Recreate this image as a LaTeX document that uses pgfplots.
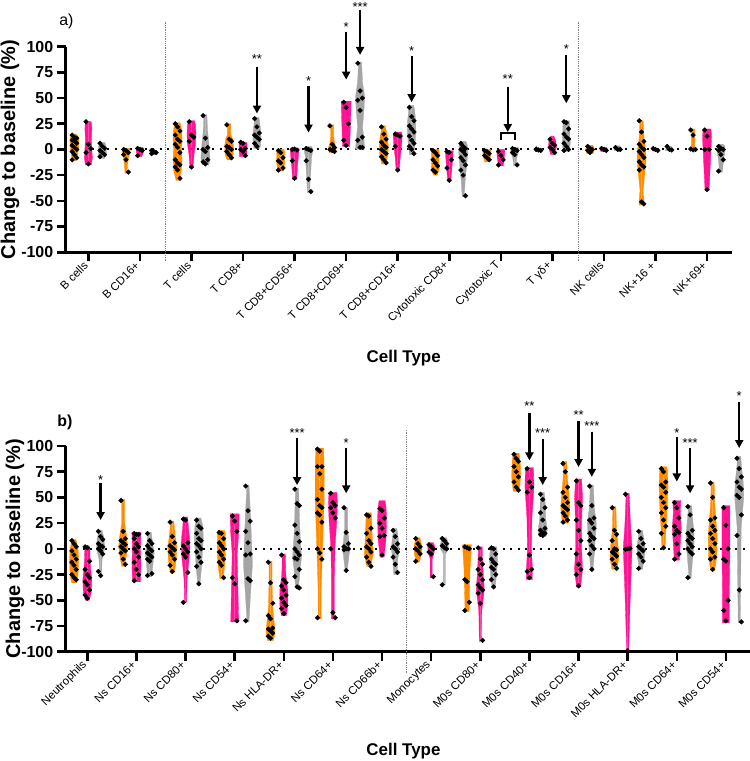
\documentclass[border=0pt]{standalone}
\usepackage{fontspec}
\setmainfont{Liberation Sans}
\usepackage{pgfplots}
\pgfplotsset{compat=1.18}
\usetikzlibrary{arrows.meta}
\definecolor{vor}{RGB}{255,140,0}
\definecolor{vpk}{RGB}{255,20,147}
\definecolor{vgy}{RGB}{165,165,165}
\newcommand{\wsc}{0.0194}
% violin: x, colour, ymin, ymax, rows "y halfwidth(px)"
\newcommand{\vio}[5]{%
 \addplot[fill=#2,draw=#2,line width=0.3pt,forget plot] table[row sep=\\,x expr={#1+\wsc*\thisrowno{1}},y index=0]{#3 0\\#5#4 0\\};
 \addplot[fill=#2,draw=#2,line width=0.3pt,forget plot] table[row sep=\\,x expr={#1-\wsc*\thisrowno{1}},y index=0]{#3 0\\#5#4 0\\};}
\newcommand{\pts}[2]{\addplot[only marks,mark=square*,mark size=1.65bp,black,every mark/.append style={rotate=45},forget plot] table[row sep=\\,y index=0,x expr={#1+0.045*(mod(\coordindex,3)-1)}]{#2};}
\newcommand{\arr}[3]{\addplot[-{Triangle[width=8bp,length=8bp]},line width=2.2bp,forget plot] coordinates {(#1,#2)(#1,#3)};}
\newcommand{\st}[3]{\node[font=\fontsize{13}{13}\selectfont] at (axis cs:#1,#2) {#3};}
\pgfplotsset{
 base/.style={scale only axis, anchor=south west, ymin=-100, ymax=100, clip=false,
  axis lines=left, axis line style={line width=2.6bp,-}, tick align=outside,
  major tick length=9bp, tick style={line width=2.6bp,black},
  ytick={-100,-75,...,100}, yticklabels={-100,-75,-50,-25,0,25,50,75,100},
  yticklabel style={font=\bfseries\fontsize{16}{18}\selectfont},
  xticklabel style={rotate=45, anchor=east, font=\fontsize{11.5}{12}\selectfont},
  ylabel={Change to baseline (\%)}, xlabel={Cell Type},
  ylabel style={font=\bfseries\fontsize{20}{22}\selectfont, anchor=center},
  xlabel style={font=\bfseries\fontsize{17}{19}\selectfont, anchor=center},
 }}
\begin{document}
\begin{tikzpicture}
\path[use as bounding box] (0,0) rectangle (750bp,761bp);
%================ panel a
\begin{axis}[base, at={(65.7bp,508.7bp)}, width=666.6bp, height=205.6bp,
 xmin=-0.44, xmax=12.49, xtick={0,...,12},
 xticklabels={B cells,B CD16+,T cells,T CD8+,T CD8+CD56+,T CD8+CD69+,T CD8+CD16+,Cytotoxic CD8+,Cytotoxic T,T γδ+,NK cells,NK+16 +,NK+69+},
 ylabel style={at={(axis description cs:-0.0836,0.5)}},
 xlabel style={at={(axis description cs:0.507,-0.515)}}]
\addplot[gray,densely dotted,line width=0.8bp,forget plot] coordinates {(1.5,124.5)(1.5,-109)};
\addplot[gray,densely dotted,line width=0.8bp,forget plot] coordinates {(9.5,124.5)(9.5,-109)};
\addplot[black,line width=2bp,dash pattern=on 2bp off 5.5bp,forget plot] coordinates {(-0.22,0)(12.4,0)};
% c0
\vio{-0.27}{vor}{-11}{15}{-11 1.5\\-6 3\\0 4\\8 4.5\\12 4\\15 2\\}
\vio{0}{vpk}{-15}{27}{-15 3\\-8 4\\0 3.5\\10 3\\20 3.5\\27 3\\}
\vio{0.27}{vgy}{-9}{7}{-9 2\\-4 4\\2 4\\7 2.5\\}
% c1
\vio{0.73}{vor}{-23}{1}{-23 1\\-15 1.5\\-8 2.5\\-3 4\\1 4\\}
\vio{1}{vpk}{-7}{2}{-7 1.5\\-3 3.5\\1 4\\2 3\\}
\vio{1.27}{vgy}{-5}{-1}{-5 3\\-2.5 4\\-1 3\\}
% c2
\vio{1.73}{vor}{-30}{26}{-30 1.5\\-20 4\\-10 4.5\\0 4\\10 4.5\\20 4\\26 2.5\\}
\vio{2}{vpk}{-18}{28}{-18 1.5\\-5 2.5\\5 4\\15 4.5\\24 4\\28 3\\}
\vio{2.27}{vgy}{-15}{34}{-15 3.5\\-8 4.5\\0 4\\10 3\\20 2\\34 1.5\\}
% c3
\vio{2.73}{vor}{-10}{25}{-10 2\\-5 4\\3 4.5\\10 3.5\\15 1.5\\25 1.5\\}
\vio{3}{vpk}{-7}{7}{-7 3.5\\0 4\\7 4\\}
\vio{3.27}{vgy}{1}{31}{1 3\\8 4\\16 4\\24 3\\31 2\\}
% c4
\vio{3.73}{vor}{-21}{0}{-21 3\\-12 4\\-4 4\\0 3.5\\}
\vio{4}{vpk}{-29}{1}{-29 2\\-15 3\\-5 4\\1 4.5\\}
\vio{4.27}{vgy}{-42}{3}{-42 1\\-25 2\\-8 3\\0 4.5\\3 3\\}
% c5
\vio{4.73}{vor}{-3}{24}{-3 3\\1 4\\6 2.5\\12 1.5\\24 1.5\\}
\vio{5}{vpk}{3}{47}{3 3.5\\15 4\\30 4.5\\47 5\\}
\vio{5.27}{vgy}{0}{85}{0 4.5\\8 4\\22 2.5\\40 4\\52 4.5\\65 2.5\\85 1.5\\}
% c6
\vio{5.73}{vor}{-14}{23}{-14 2\\-6 4\\2 4.5\\10 4\\18 2.5\\23 1.5\\}
\vio{6}{vpk}{-21}{17}{-21 1.5\\-8 2.5\\5 4\\14 4.5\\17 3.5\\}
\vio{6.27}{vgy}{-5}{43}{-5 2\\5 3.5\\15 4\\28 4\\38 3\\43 2\\}
% c7
\vio{6.73}{vor}{-25}{0}{-25 2\\-18 4\\-10 3.5\\-4 4\\0 3.5\\}
\vio{7}{vpk}{-31}{-1}{-31 1.5\\-20 2.5\\-8 3.5\\-1 4\\}
\vio{7.27}{vgy}{-46}{8}{-46 1\\-30 2\\-15 3.5\\-3 4.5\\5 4\\8 2.5\\}
% c8
\vio{7.73}{vor}{-12}{0}{-12 2\\-6 4\\0 4\\}
\vio{8}{vpk}{-16}{0}{-16 2.5\\-8 3.5\\-2 4\\0 3.5\\}
\vio{8.27}{vgy}{-16}{2}{-16 1\\-8 2\\-2 4\\2 3.5\\}
% c9
\vio{8.73}{vor}{-2}{1}{-2 3\\0 4\\1 3\\}
\vio{9}{vpk}{-5}{13}{-5 1.5\\2 4\\8 3.5\\13 1.5\\}
\vio{9.27}{vgy}{-2}{28}{-2 3\\6 4\\15 3.5\\22 3.5\\28 3\\}
% c10
\vio{9.73}{vor}{-4}{4}{-4 3\\0 4.5\\4 3\\}
\vio{10}{vpk}{-2}{2}{-2 3\\0 4\\2 2.5\\}
\vio{10.27}{vgy}{-1}{3.5}{-1 3.5\\1 4\\3.5 2\\}
% c11
\vio{10.73}{vor}{-54}{28}{-54 2.5\\-50 2.5\\-40 1.5\\-25 3\\-10 4.5\\0 4\\10 2.5\\20 2\\28 1.5\\}
\vio{11}{vpk}{-1.5}{1}{-1.5 2.5\\0 4\\1 3\\}
\vio{11.27}{vgy}{-1}{3}{-1 4\\1 3.5\\3 2\\}
% c12
\vio{11.73}{vor}{-1}{20}{-1 3.5\\1 3.5\\3 1.5\\20 1.5\\}
\vio{12}{vpk}{-40}{20}{-40 2\\-20 3\\0 4\\12 4.5\\20 4\\}
\vio{12.27}{vgy}{-22}{5}{-22 1.5\\-10 2.5\\-2 4\\3 4\\5 2\\}
% points
\pts{-0.27}{14\\12\\11\\9\\8\\6\\4\\2\\0\\-2\\-5\\-8\\-10\\}
\pts{0}{27\\5\\1\\-3\\-14\\}
\pts{0.27}{6\\3\\1\\-1\\-3\\-5\\-7\\}
\pts{0.73}{0\\-1\\-3\\-5\\-10\\-22\\}
\pts{1}{1\\0\\-1\\-6\\}
\pts{1.27}{-1\\-2\\-3\\-4\\-2.5\\}
\pts{1.73}{25\\22\\18\\14\\10\\8\\5\\2\\-3\\-10\\-13\\-15\\-17\\-20\\-28\\}
\pts{2}{27\\14\\12\\8\\-17\\}
\pts{2.27}{33\\11\\2\\0\\-2\\-10\\-12\\-14\\}
\pts{2.73}{24\\10\\8\\3\\2\\0\\-2\\-5\\-8\\}
\pts{3}{7\\6\\1\\0\\-2\\-6\\}
\pts{3.27}{30\\22\\16\\14\\12\\10\\6\\3\\}
\pts{3.73}{-1\\-3\\-8\\-11\\-13\\-18\\-20\\}
\pts{4}{0\\0.5\\-0.5\\-11\\-28\\}
\pts{4.27}{1\\0\\-1\\-11\\-29\\-41\\}
\pts{4.73}{23\\5\\2\\0\\-1\\-2\\}
\pts{5}{46\\41\\25\\9\\4\\}
\pts{5.27}{84\\57\\50\\48\\38\\12\\9\\2\\2\\}
\pts{5.73}{22\\15\\10\\7\\4\\2\\0\\-2\\-4\\-7\\-10\\-13\\}
\pts{6}{15\\14\\13\\3\\-20\\}
\pts{6.27}{41\\32\\28\\23\\20\\17\\13\\9\\6\\3\\0\\-4\\}
\pts{6.73}{-1\\-3\\-6\\-10\\-13\\-16\\-20\\-22\\}
\pts{7}{-2\\-3\\-10\\-18\\-30\\}
\pts{7.27}{6\\3\\1\\0\\-2\\-5\\-8\\-11\\-15\\-20\\-25\\-45\\}
\pts{7.73}{-1\\-2\\-4\\-6\\-8\\-10\\}
\pts{8}{-2\\-6\\-10\\-15\\}
\pts{8.27}{1\\0\\-1\\-3\\-5\\-15\\}
\pts{8.73}{0\\-0.5\\-1\\0.5\\}
\pts{9}{10\\6\\4\\2\\0\\-3\\}
\pts{9.27}{27\\26\\20\\15\\12\\10\\6\\3\\0\\-1\\}
\pts{9.73}{3\\1\\0\\-1\\-3\\}
\pts{10}{1\\0\\-1\\}
\pts{10.27}{2\\0\\0\\}
\pts{10.73}{28\\17\\8\\5\\2\\0\\-2\\-5\\-8\\-12\\-15\\-17\\-20\\-51\\-53\\}
\pts{11}{1\\0\\-1\\}
\pts{11.27}{3\\0\\-0.5\\}
\pts{11.73}{19\\14\\0\\0.5\\-0.5\\}
\pts{12}{19\\13\\0\\0\\-39\\}
\pts{12.27}{3\\1\\0\\-1\\-5\\-10\\-21\\}
% annotations
\arr{3.27}{80}{35}\st{3.27}{87.7}{**}
\arr{4.27}{62}{16.5}\st{4.27}{66.6}{*}
\arr{5}{114}{68}\st{5}{119.2}{*}
\arr{5.27}{136}{92}\st{5.27}{138.9}{***}
\arr{6.27}{90.5}{46}\st{6.27}{95.8}{*}
\addplot[line width=2bp,forget plot] coordinates {(8,9)(8,16)(8.27,16)(8.27,9)};
\arr{8.135}{61}{17}\st{8.135}{68.9}{**}
\arr{9.27}{92}{45}\st{9.27}{98.2}{*}
\node[font=\fontsize{16}{18}\selectfont] at (axis description cs:0.001,1.1226) {a)};
\end{axis}
%================ panel b
\renewcommand{\wsc}{0.02035}
\begin{axis}[base, at={(65.7bp,109.3bp)}, width=684.3bp, height=205.7bp,
 xmin=-0.44, xmax=13.49, xtick={0,...,13},
 xticklabels={Neutrophils,Ns CD16+,Ns CD80+,Ns CD54+,Ns HLA-DR+,Ns CD64+,Ns CD66b+,Monocytes,M0s CD80+,M0s CD40+,M0s CD16+,M0s HLA-DR+,M0s CD64+,M0s CD54+},
 ylabel style={at={(axis description cs:-0.074,0.5)}},
 xlabel style={at={(axis description cs:0.4936,-0.485)}}]
\addplot[gray,densely dotted,line width=0.8bp,forget plot] coordinates {(6.5,115.7)(6.5,-120.6)};
\addplot[black,line width=2bp,dash pattern=on 2bp off 5.5bp,forget plot] coordinates {(-0.25,0)(13.49,0)};
% c0
\vio{-0.27}{vor}{-33}{9}{-33 2.5\\-25 4\\-12 4.5\\0 4\\9 2\\}
\vio{0}{vpk}{-50}{3}{-50 2\\-42 4\\-30 4.5\\-15 3\\0 2.5\\3 2\\}
\vio{0.27}{vgy}{-27}{18}{-27 1\\-10 1.5\\0 4\\10 3.5\\18 1.5\\}
% c1
\vio{0.73}{vor}{-17}{48}{-17 1.5\\-8 3\\2 4.5\\12 3.5\\25 1.5\\48 1.5\\}
\vio{1}{vpk}{-32}{16}{-32 4\\-15 4.5\\0 4\\16 4.5\\}
\vio{1.27}{vgy}{-27}{16}{-27 2\\-12 3.5\\-4 4.5\\5 3\\16 1.5\\}
% c2
\vio{1.73}{vor}{-23}{27}{-23 2\\-10 4\\2 4.5\\12 3\\27 1.5\\}
\vio{2}{vpk}{-52}{31}{-52 1\\-30 1.5\\-10 3.5\\5 4.5\\20 3\\31 2\\}
\vio{2.27}{vgy}{-35}{30}{-35 1\\-20 2.5\\-5 3.5\\10 4.5\\22 4\\30 2\\}
% c3
\vio{2.73}{vor}{-29}{18}{-29 1.5\\-15 3.5\\-5 4\\5 4\\15 4\\18 3\\}
\vio{3}{vpk}{-71}{34}{-71 4\\-50 3.5\\-25 3\\-5 2.5\\15 4\\34 4.5\\}
\vio{3.27}{vgy}{-71}{62}{-71 1\\-45 2.5\\-15 4.5\\10 3.5\\35 2.5\\62 1\\}
% c4
\vio{3.73}{vor}{-89}{-12}{-89 3\\-80 4.5\\-70 3.5\\-55 2\\-30 1.5\\-12 1.5\\}
\vio{4}{vpk}{-65}{-5}{-65 2.5\\-55 4\\-40 4\\-25 2\\-5 1.5\\}
\vio{4.27}{vgy}{-38}{59}{-38 1.5\\-20 3\\-8 4.5\\5 3.5\\25 2.5\\45 2\\59 1.5\\}
% c5
\vio{4.73}{vor}{-68}{98}{-68 1.5\\-40 1.5\\-10 2.5\\20 3.5\\45 4.5\\75 4.5\\98 4\\}
\vio{5}{vpk}{-68}{55}{-68 1.5\\-30 1.5\\0 2\\30 4\\45 4.5\\55 4\\}
\vio{5.27}{vgy}{-21}{40}{-21 1\\-5 3\\0 4\\5 3\\20 1.5\\40 1.5\\}
% c6
\vio{5.73}{vor}{-17}{35}{-17 2\\-5 4.5\\10 3.5\\25 3\\35 2.5\\}
\vio{6}{vpk}{-8}{47}{-8 2\\10 4\\30 4.5\\40 4\\47 3\\}
\vio{6.27}{vgy}{-25}{20}{-25 1.5\\-10 2.5\\0 4\\10 3\\20 1.5\\}
% c7
\vio{6.73}{vor}{-13}{11}{-13 1.5\\-5 3.5\\2 4\\11 2\\}
\vio{7}{vpk}{-28}{6}{-28 1\\-10 1\\-3 3\\3 3.5\\6 2\\}
\vio{7.27}{vgy}{-35}{11}{-35 1\\-5 1\\0 4\\5 4\\11 2\\}
% c8
\vio{7.73}{vor}{-61}{4}{-61 2\\-40 2.5\\-20 3\\-5 4\\4 4.5\\}
\vio{8}{vpk}{-90}{2}{-90 1\\-60 1.5\\-40 4\\-25 3\\-5 2\\2 2\\}
\vio{8.27}{vgy}{-38}{2}{-38 1.5\\-25 3\\-12 4\\0 3.5\\2 3\\}
% c9
\vio{8.73}{vor}{56}{93}{56 3\\70 4.5\\85 4\\93 3\\}
\vio{9}{vpk}{-30}{79}{-30 3\\-20 3\\0 2\\30 2.5\\60 4.5\\79 4\\}
\vio{9.27}{vgy}{12}{55}{12 3.5\\18 4.5\\30 3\\45 2.5\\55 1.5\\}
% c10
\vio{9.73}{vor}{25}{85}{25 3\\40 4.5\\55 3.5\\70 2\\85 1.5\\}
\vio{10}{vpk}{-37}{68}{-37 2\\-20 4\\0 3\\25 3\\50 4\\68 3\\}
\vio{10.27}{vgy}{-21}{62}{-21 1\\-5 2.5\\10 3.5\\25 4.5\\40 2.5\\62 1.5\\}
% c11
\vio{10.73}{vor}{-20}{41}{-20 2.5\\-8 4.5\\5 3.5\\20 2\\41 1.5\\}
\vio{11}{vpk}{-100}{54}{-100 1\\-50 2.5\\-10 4\\0 4.5\\20 3\\54 1.5\\}
\vio{11.27}{vgy}{-20}{18}{-20 1.5\\-8 3.5\\2 4\\12 2.5\\18 1.5\\}
% c12
\vio{11.73}{vor}{0}{80}{0 1.5\\20 2.5\\45 4\\62 4.5\\75 4\\80 3\\}
\vio{12}{vpk}{-11}{47}{-11 2.5\\5 3.5\\20 4.5\\35 3.5\\47 4\\}
\vio{12.27}{vgy}{-29}{42}{-29 1\\-10 2.5\\5 4\\15 4\\30 2.5\\42 1.5\\}
% c13
\vio{12.73}{vor}{-21}{65}{-21 2\\-8 4\\10 4.5\\25 3.5\\45 2\\65 1.5\\}
\vio{13}{vpk}{-72}{42}{-72 3.5\\-40 3.5\\0 4\\42 4\\}
\vio{13.27}{vgy}{-72}{90}{-72 1\\-30 1.5\\20 2\\50 4.5\\65 4\\78 2.5\\90 1.5\\}
% points
\pts{-0.27}{8\\5\\2\\-2\\-6\\-10\\-13\\-16\\-20\\-25\\-28\\-30\\}
\pts{0}{2\\1\\-12\\-20\\-25\\-28\\-32\\-35\\-40\\-45\\-48\\}
\pts{0.27}{17\\12\\9\\5\\3\\2\\0\\-2\\-5\\-22\\-26\\}
\pts{0.73}{47\\17\\10\\8\\6\\4\\2\\0\\-2\\-4\\-10\\-15\\}
\pts{1}{15\\14\\14\\10\\5\\2\\0\\-3\\-8\\-13\\-20\\-25\\-31\\}
\pts{1.27}{15\\8\\5\\3\\0\\-2\\-4\\-6\\-8\\-10\\-12\\-24\\-26\\}
\pts{1.73}{26\\12\\6\\3\\1\\-1\\-3\\-6\\-10\\-16\\-22\\}
\pts{2}{29\\28\\6\\3\\0\\-3\\-5\\-8\\-23\\-52\\}
\pts{2.27}{28\\22\\20\\15\\10\\8\\5\\3\\0\\-3\\-8\\-13\\-17\\-34\\}
\pts{2.73}{16\\15\\10\\6\\3\\0\\-3\\-6\\-10\\-13\\-16\\-28\\}
\pts{3}{32\\27\\17\\-28\\-34\\-70\\}
\pts{3.27}{61\\37\\27\\17\\6\\-5\\-6\\-29\\-31\\-70\\}
\pts{3.73}{-13\\-33\\-53\\-65\\-68\\-77\\-78\\-80\\-82\\-85\\-87\\}
\pts{4}{-6\\-30\\-33\\-36\\-40\\-45\\-48\\-52\\-55\\-58\\-63\\}
\pts{4.27}{58\\44\\42\\23\\15\\7\\0\\-3\\-6\\-9\\-10\\-20\\-27\\-37\\-38\\}
\pts{4.73}{97\\95\\80\\80\\73\\58\\48\\42\\40\\35\\33\\26\\0\\-4\\-10\\-67\\}
\pts{5}{54\\45\\42\\40\\35\\30\\0\\-62\\-67\\}
\pts{5.27}{40\\16\\5\\2\\0\\0\\-1\\-21\\}
\pts{5.73}{33\\32\\20\\15\\8\\5\\2\\0\\-3\\-8\\-13\\-17\\}
\pts{6}{39\\37\\30\\25\\20\\13\\12\\-6\\}
\pts{6.27}{18\\12\\5\\2\\0\\-3\\-8\\-15\\-23\\}
\pts{6.73}{10\\5\\2\\0\\-2\\-5\\-12\\}
\pts{7}{4\\2\\0\\-3\\-5\\-27\\}
\pts{7.27}{10\\8\\5\\3\\1\\0\\-35\\}
\pts{7.73}{2\\1\\0\\-30\\-32\\-52\\-60\\}
\pts{8}{1\\-10\\-15\\-20\\-25\\-30\\-35\\-38\\-40\\-43\\-53\\-89\\}
\pts{8.27}{1\\0\\-5\\-10\\-13\\-15\\-18\\-20\\-25\\-30\\-37\\}
\pts{8.73}{92\\88\\85\\80\\75\\70\\65\\60\\57\\}
\pts{9}{78\\65\\60\\55\\-6\\-20\\-22\\-28\\}
\pts{9.27}{53\\48\\40\\35\\28\\20\\18\\16\\15\\14\\13\\}
\pts{9.73}{83\\75\\60\\55\\50\\45\\42\\40\\38\\35\\32\\28\\26\\}
\pts{10}{66\\45\\42\\28\\18\\8\\-5\\-15\\-20\\-25\\-36\\}
\pts{10.27}{61\\42\\30\\28\\25\\20\\15\\12\\10\\8\\3\\0\\-5\\-20\\}
\pts{10.73}{40\\18\\14\\8\\0\\-1\\-3\\-5\\-7\\-10\\-15\\-19\\}
\pts{11}{53\\0\\0.5\\-0.5\\-99\\}
\pts{11.27}{17\\10\\5\\2\\0\\-2\\-5\\-8\\-12\\-19\\}
\pts{11.73}{78\\75\\65\\62\\60\\55\\50\\45\\40\\35\\28\\22\\15\\1\\}
\pts{12}{45\\40\\30\\22\\18\\16\\14\\5\\-5\\-10\\}
\pts{12.27}{41\\33\\18\\15\\12\\10\\8\\5\\2\\0\\-3\\-5\\-28\\}
\pts{12.73}{64\\50\\30\\28\\22\\18\\15\\10\\5\\0\\-3\\-8\\-10\\-20\\}
\pts{13}{40\\23\\0\\-10\\-12\\-50\\-60\\-70\\}
\pts{13.27}{88\\78\\70\\65\\60\\58\\52\\50\\33\\13\\-40\\-71\\}
% annotations
\arr{0.27}{64}{28}\st{0.27}{67}{*}
\arr{4.27}{108}{62}\st{4.27}{113}{***}
\arr{5.27}{98}{54}\st{5.27}{103.3}{*}
\arr{9}{132}{86}\st{9}{139.3}{**}
\arr{9.27}{107}{62}\st{9.27}{112.3}{***}
\arr{10}{124}{79.5}\st{10}{130.3}{**}
\arr{10.27}{114}{70}\st{10.27}{119.3}{***}
\arr{12}{109}{65.5}\st{12}{112.3}{*}
\arr{12.27}{98}{54}\st{12.27}{103.3}{***}
\arr{13.27}{143}{98}\st{13.27}{148.3}{*}
\node[font=\bfseries\fontsize{16}{18}\selectfont] at (axis description cs:-0.001,1.114) {b)};
\end{axis}
\end{tikzpicture}
\end{document}
